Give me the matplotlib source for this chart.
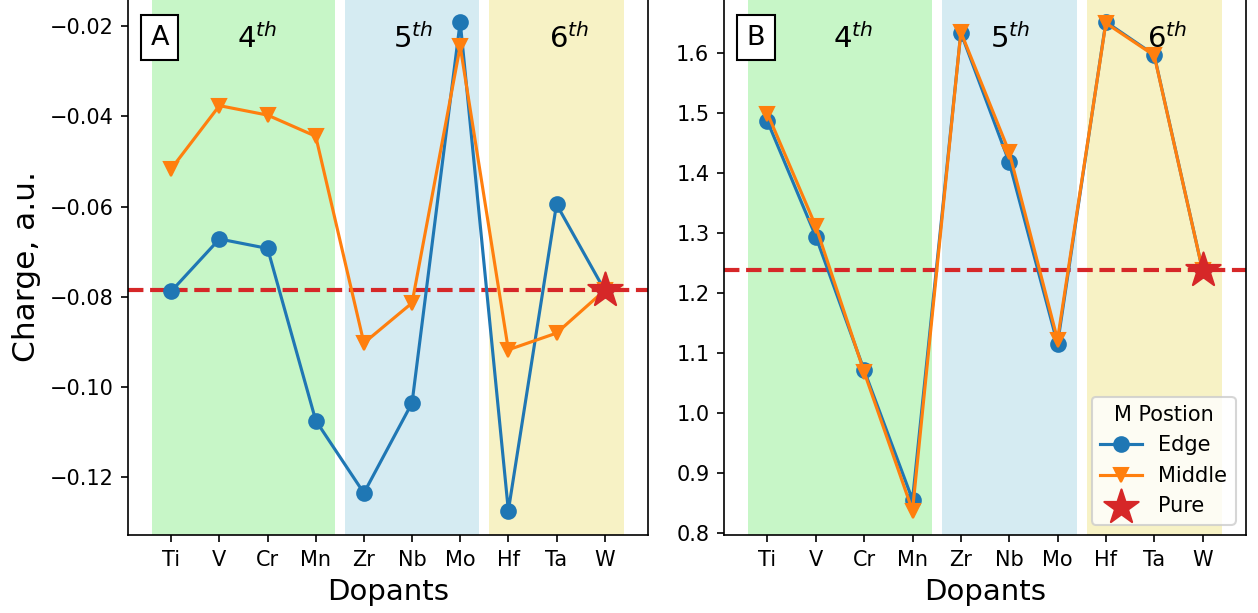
import matplotlib
matplotlib.use('Agg')
import matplotlib.pyplot as plt

# Dopant elements and their charge values
dopants = ['Ti', 'V', 'Cr', 'Mn', 'Zr', 'Nb', 'Mo', 'Hf', 'Ta', 'W']

edge_a = [-0.0788, -0.0672, -0.0693, -0.1075, -0.1236, -0.1036, -0.0190, -0.1275, -0.0595, -0.0786]
middle_a = [-0.0516, -0.0376, -0.0397, -0.0444, -0.0903, -0.0814, -0.0244, -0.0918, -0.0881, -0.0786]
pure_a = -0.0786

edge_b = [1.486, 1.294, 1.071, 0.855, 1.634, 1.418, 1.115, 1.652, 1.597, 1.2376]
middle_b = [1.499, 1.311, 1.068, 0.837, 1.635, 1.435, 1.122, 1.650, 1.596, 1.2376]
pure_b = 1.2376

periods = ['4', '5', '6']
period_spans = [(-0.4, 3.4), (3.6, 6.4), (6.6, 9.4)]
period_colors = ['lightgreen', 'lightblue', 'khaki']
period_label_x = [1.78, 5.03, 8.26]

fig = plt.figure(figsize=(1258 / 150, 613 / 150), dpi=150)
ax_a = fig.add_axes([0.1017, 0.1272, 0.4134, 0.877])
ax_b = fig.add_axes([0.5755, 0.1272, 0.4150, 0.877])

x = list(range(len(dopants)))

for ax, edge, middle, pure, tag in [(ax_a, edge_a, middle_a, pure_a, 'A'),
                                    (ax_b, edge_b, middle_b, pure_b, 'B')]:
    for (lo, hi), c in zip(period_spans, period_colors):
        ax.axvspan(lo, hi, color=c, alpha=0.5, lw=0, zorder=0)

    ax.plot(x, edge, '-o', color='tab:blue', lw=1.5, ms=7, label='Edge', zorder=2)
    ax.plot(x, middle, '-v', color='tab:orange', lw=1.5, ms=7, label='Middle', zorder=3)
    ax.axhline(pure, color='tab:red', ls='--', lw=2, zorder=1)
    ax.scatter([x[-1]], [pure], marker='*', s=300, color='tab:red', label='Pure', zorder=4)

    ax.set_xlim(-0.9, 9.9)
    ax.set_xticks(x)
    ax.set_xticklabels(dopants, fontsize=10)
    ax.tick_params(axis='y', labelsize=10)
    ax.set_xlabel('Dopants', fontsize=14)

    ax.text(0.061, 0.925, tag, transform=ax.transAxes, fontsize=13,
            ha='center', va='center',
            bbox=dict(facecolor='white', edgecolor='black', boxstyle='square,pad=0.35'))

    for p, px in zip(periods, period_label_x):
        ax.text(px, 0.906, p + r'$^{th}$', transform=ax.get_xaxis_transform(),
                fontsize=14, ha='center', va='baseline')

ax_a.set_ylabel('Charge, a.u.', fontsize=15)
ax_b.legend(title='M Postion', loc='lower right', fontsize=10, title_fontsize=10)

plt.savefig('out.png', dpi=150)
plt.close()
